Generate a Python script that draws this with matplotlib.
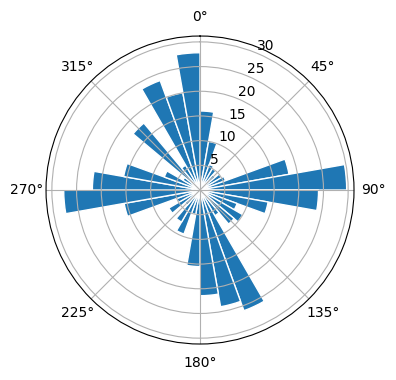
import numpy as np
import matplotlib
matplotlib.use("Agg")
import matplotlib.pyplot as plt

# bin start angles (deg, clockwise from north) and counts per 10 degree bin
bin_starts = np.arange(0, 360, 10)
counts = [16, 10, 5.5, 5, 4, 5, 5.5, 18.3, 29.7,
          24, 14, 8, 10, 9, 6, 26, 24, 21.4,
          15.5, 5, 9.5, 7.5, 4, 7.3, 5, 15.6, 27.6,
          21.8, 15.7, 7.7, 4, 17.7, 5.8, 23.6, 20, 27.8]

fig = plt.figure(figsize=(3.96, 3.8), dpi=100)
ax = fig.add_axes([0.1162, 0.0947, 0.7778, 0.8105], projection="polar")
ax.set_theta_zero_location("N")
ax.set_theta_direction(-1)

ax.bar(np.deg2rad(bin_starts), counts, width=np.deg2rad(10), align="edge",
       bottom=0.0, edgecolor="white")
ax.set_rgrids([5, 10, 15, 20, 25, 30])
ax.set_thetagrids(np.arange(0, 360, 45))

fig.savefig("out.png", dpi=100)
